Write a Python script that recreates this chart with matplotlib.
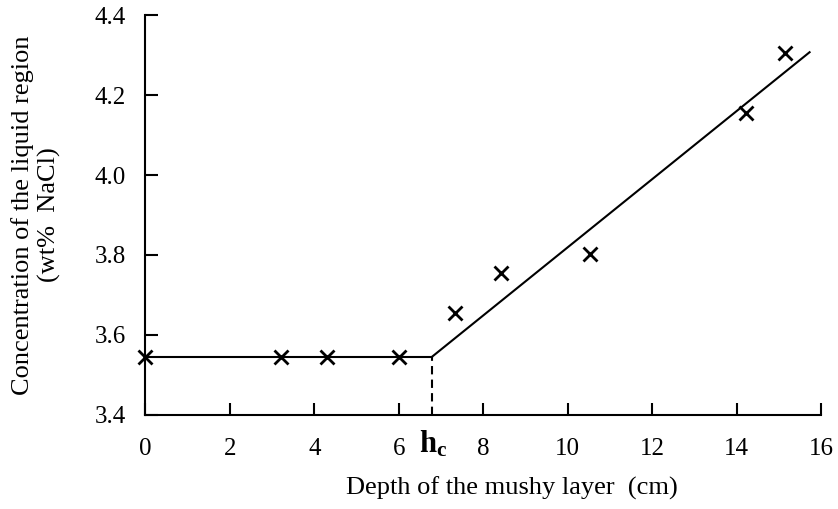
import numpy as np
import matplotlib
matplotlib.use("Agg")
import matplotlib.pyplot as plt

plt.rcParams['font.family'] = ['Liberation Serif', 'DejaVu Serif']
plt.rcParams['mathtext.fontset'] = 'custom'
plt.rcParams['mathtext.rm'] = 'Liberation Serif'
plt.rcParams['mathtext.bf'] = 'Liberation Serif:bold'

# measured points
depth = [0.0, 3.2, 4.3, 6.0, 7.33, 8.43, 10.52, 14.23, 15.14]
conc = [3.545, 3.545, 3.545, 3.545, 3.656, 3.754, 3.802, 4.154, 4.304]

# fitted lines
hc = 6.78
flat_x = [0.0, hc]
flat_y = [3.545, 3.545]
slope_x = [hc, 15.73]
slope_y = [3.545, 4.307]

x_ticks = [0, 2, 4, 6, 8, 10, 12, 14, 16]
y_ticks = [3.4, 3.6, 3.8, 4.0, 4.2, 4.4]


def main():
    fig = plt.figure(figsize=(8.38, 5.09), dpi=100)
    ax = fig.add_axes([0.1736, 0.1847, 0.8061, 0.7858])

    ax.plot(flat_x, flat_y, color='black', lw=1.5)
    ax.plot(slope_x, slope_y, color='black', lw=1.5)
    ax.plot([hc, hc], [3.4, flat_y[1]], color='black', lw=1.5, ls=(0, (4, 2.5)))
    ax.plot(depth, conc, ls='none', marker='x', ms=10.5, mew=2, color='black',
            clip_on=False, zorder=5)

    ax.set_xlim(0, 16)
    ax.set_ylim(3.4, 4.4)
    ax.set_xticks(x_ticks)
    ax.set_yticks(y_ticks)
    ax.set_yticklabels([f'{v:.1f}' for v in y_ticks])
    ax.tick_params(direction='in', length=9, width=1.5, labelsize=18)
    ax.tick_params(axis='x', pad=16.5)
    ax.tick_params(axis='y', pad=14)

    for s in ['top', 'right']:
        ax.spines[s].set_visible(False)
    for s in ['left', 'bottom']:
        ax.spines[s].set_linewidth(1.5)

    ax.annotate(r'$\mathbf{h_c}$', xy=(hc, 3.4), xytext=(1, -10), textcoords='offset points',
                ha='center', va='top', fontsize=22, annotation_clip=False)

    ax.set_xlabel('Depth of the mushy layer  (cm)', fontsize=19)
    ax.xaxis.set_label_coords(0.5426, -0.153)
    ax.set_ylabel('Concentration of the liquid region\n(wt%  NaCl)', fontsize=19,
                  linespacing=1.2)
    ax.yaxis.set_label_coords(-0.125, 0.5)

    fig.savefig('out.png', dpi=100)


if __name__ == '__main__':
    main()
